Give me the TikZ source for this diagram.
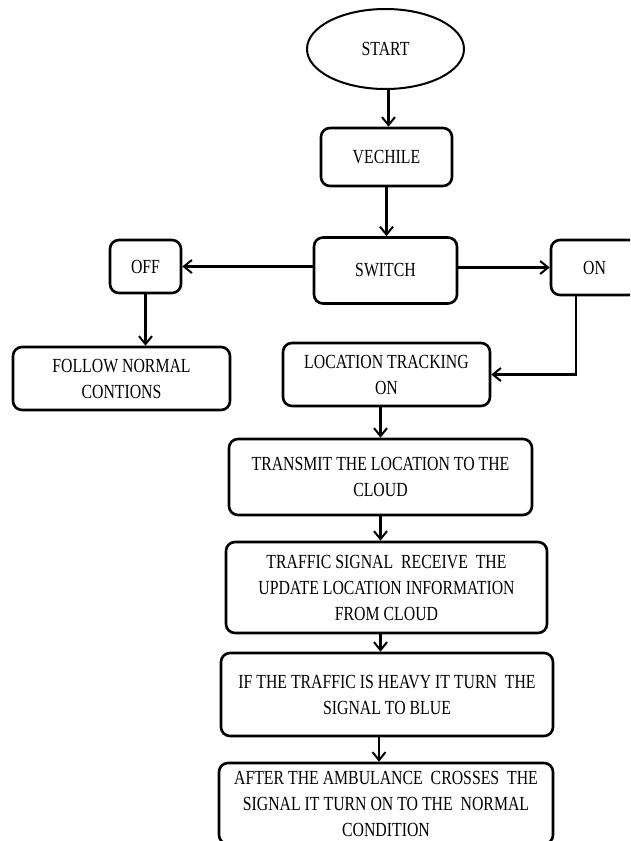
\documentclass[tikz,border=0pt]{standalone}
\usepackage{fontspec}
\setmainfont[FakeStretch=0.79]{Liberation Serif}
\usetikzlibrary{arrows.meta,shapes.geometric}
\begin{document}
\begin{tikzpicture}[x=1pt,y=-1pt,
  box/.style={draw,line width=2.6pt,rounded corners=9pt,inner sep=0pt,align=center,font=\fontsize{20}{26}\selectfont},
  arr/.style={line width=2.2pt,-{Straight Barb[length=8pt,width=13pt,line width=2pt]}}]
\useasboundingbox (0,0) rectangle (630,841);
\fill[white] (0,0) rectangle (630,841);
\clip (0,0) rectangle (630,841);
\node[draw,ellipse,line width=2pt,minimum width=157pt,minimum height=80pt,inner sep=0pt,font=\fontsize{20}{26}\selectfont] (start) at (385.5,49) {START};
\node[box,minimum width=131pt,minimum height=58pt] (vechile) at (386.5,157) {VECHILE};
\node[box,minimum width=143pt,minimum height=66pt] (switch) at (385.5,270.5) {SWITCH};
\node[box,minimum width=71pt,minimum height=53pt] (off) at (145.5,266.5) {OFF};
\node[box,minimum width=87pt,minimum height=55pt] (on) at (594.5,267.5) {ON};
\node[box,minimum width=217pt,minimum height=63pt] (follow) at (121.5,378.5) {FOLLOW NORMAL\\CONTIONS};
\node[box,minimum width=207pt,minimum height=63pt] (location) at (386.5,374.5) {LOCATION TRACKING\\ON};
\node[box,minimum width=303pt,minimum height=76pt] (transmit) at (380.5,477) {TRANSMIT THE LOCATION TO THE\\CLOUD};
\node[box,minimum width=321pt,minimum height=91pt] (traffic) at (386.5,587.5) {TRAFFIC SIGNAL\ \ RECEIVE\ \ THE\\UPDATE LOCATION INFORMATION\\FROM CLOUD};
\node[box,minimum width=332pt,minimum height=83pt] (heavy) at (387,694.5) {IF THE TRAFFIC IS HEAVY IT TURN\ \ THE\\SIGNAL TO BLUE};
\node[box,minimum width=334pt,minimum height=81pt] (after) at (386,803.5) {AFTER THE AMBULANCE\ \ CROSSES\ \ THE\\SIGNAL IT TURN ON TO THE\ \ NORMAL\\CONDITION};
\coordinate (col) at (380.5,0);
\draw[arr] ([xshift=3pt]start.south) -- ([xshift=3pt]start.south |- vechile.north);
\draw[arr] (vechile.south) -- (vechile.south |- switch.north);
\draw[arr] (switch.west |- off.east) -- (off.east);
\draw[arr] (switch.east |- on.west) -- (on.west);
\draw[arr] ([xshift=-18.5pt]on.south) |- (location.east);
\draw[arr] (off.south) -- (off.south |- follow.north);
\draw[arr] (col |- location.south) -- (transmit.north);
\draw[arr] (col |- transmit.south) -- (col |- traffic.north);
\draw[arr] (col |- traffic.south) -- (col |- heavy.north);
\draw[arr] ([xshift=-1.5pt]col |- heavy.south) -- ([xshift=-1.5pt]col |- after.north);
\end{tikzpicture}
\end{document}
